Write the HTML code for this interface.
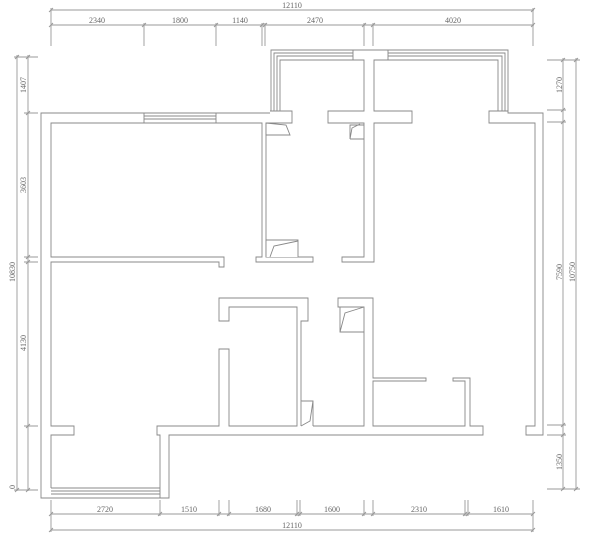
<!DOCTYPE html>
<html><head><meta charset="utf-8"><style>
html,body{margin:0;padding:0;background:#fff;}
svg{display:block}
text{font-family:"Liberation Serif",serif;font-size:8px;fill:#666;}
</style></head><body>
<svg width="600" height="548" viewBox="0 0 600 548" xmlns="http://www.w3.org/2000/svg">
<g stroke="#999" stroke-width="0.9" fill="none">
<path d="M51,10H534 M51,25H534 M51,8V46 M144,23V46 M216,23V46 M262,23V46 M265,23V46 M364,23V46 M373,23V46 M533,8V46"/>
<path d="M49,12l4,-4 M49,27l4,-4 M142,27l4,-4 M214,27l4,-4 M260,27l4,-4 M263,27l4,-4 M362,27l4,-4 M371,27l4,-4 M531,27l4,-4 M531,12l4,-4"/>
<path d="M51,514H533 M51,530H533 M51,500V532 M160,500V516 M219,500V516 M229,500V516 M297,500V516 M300,500V516 M364,500V516 M373,500V516 M465,500V516 M468,500V516 M533,500V532"/>
<path d="M49,516l4,-4 M49,532l4,-4 M158,516l4,-4 M217,516l4,-4 M227,516l4,-4 M295,516l4,-4 M298,516l4,-4 M362,516l4,-4 M371,516l4,-4 M463,516l4,-4 M466,516l4,-4 M531,516l4,-4 M531,532l4,-4"/>
<path d="M17,55V491 M28,55V491 M14,57H38 M24,113H38 M24,257H38 M24,262H38 M24,426H38 M14,490H38"/>
<path d="M15,59l4,-4 M26,59l4,-4 M26,115l4,-4 M26,259l4,-4 M26,264l4,-4 M26,428l4,-4 M15,492l4,-4 M26,492l4,-4"/>
<path d="M563,58V490 M576,58V490 M547,60H580 M547,110H566 M547,122H566 M547,425H566 M547,435H566 M547,489H580"/>
<path d="M561,62l4,-4 M574,62l4,-4 M561,112l4,-4 M561,124l4,-4 M561,427l4,-4 M561,437l4,-4 M561,491l4,-4 M574,491l4,-4"/>
</g>
<g fill="#fff" stroke="#888" stroke-width="0.9">
<path d="M270,113H41V498H169V435H483V426H470V378H453V381H465V426H373V381H426V378H373V298H338V307H364V426H313 M301,426V321H308V298H219V321H229V307H297V426H229V349H219V426H157V435H160V498 M51,488V435H74V426H51V262H219V267H224V257H51V123H262V257H256V262H313V257H266V123H292V111H270"/>
<path d="M144,113V123 M216,113V123 M144,116H216 M144,119H216"/>
<path d="M51,488H160 M51,491H160 M51,494H160"/>
<path d="M271,111V50H353 M274,111V53H353 M277,111V56H353 M280,111V60H353"/>
<path d="M353,50H388V60H374V111H412V123H374V262H342V257H364V123H328V111H364V60H353Z"/>
<path d="M388,50H508V111 M388,53H505V111 M388,56H502V111 M388,60H498V111"/>
<path d="M489,111H508V113H543V435H526V426H535V123H489Z"/>
<path d="M266,123V135H290L286,125Z M266,135H290" />
<path d="M350,139V125H364 M350,139H364 M350,139L352,128L360,124"/>
<path d="M266,257V240H298V257 M270,257L274,246L298,241"/>
<path d="M340,307V332H364 M340,332L345,313L364,307"/>
<path d="M301,401H313V426 M301,426L310,421L313,401"/>
</g>
<g>
<text x="292" y="8" text-anchor="middle">12110</text>
<text x="97" y="23" text-anchor="middle">2340</text>
<text x="180" y="23" text-anchor="middle">1800</text>
<text x="240" y="23" text-anchor="middle">1140</text>
<text x="315" y="23" text-anchor="middle">2470</text>
<text x="453" y="23" text-anchor="middle">4020</text>
<text x="105" y="512" text-anchor="middle">2720</text>
<text x="189" y="512" text-anchor="middle">1510</text>
<text x="263" y="512" text-anchor="middle">1680</text>
<text x="332" y="512" text-anchor="middle">1600</text>
<text x="419" y="512" text-anchor="middle">2310</text>
<text x="501" y="512" text-anchor="middle">1610</text>
<text x="292" y="528" text-anchor="middle">12110</text>
<text transform="translate(26,85) rotate(-90)" text-anchor="middle">1407</text>
<text transform="translate(26,185) rotate(-90)" text-anchor="middle">3603</text>
<text transform="translate(26,343) rotate(-90)" text-anchor="middle">4130</text>
<text transform="translate(15,487) rotate(-90)" text-anchor="middle">0</text>
<text transform="translate(15,272) rotate(-90)" text-anchor="middle">10830</text>
<text transform="translate(562,85) rotate(-90)" text-anchor="middle">1270</text>
<text transform="translate(562,272) rotate(-90)" text-anchor="middle">7590</text>
<text transform="translate(575,272) rotate(-90)" text-anchor="middle">10750</text>
<text transform="translate(562,462) rotate(-90)" text-anchor="middle">1350</text>
</g>
</svg>
</body></html>
